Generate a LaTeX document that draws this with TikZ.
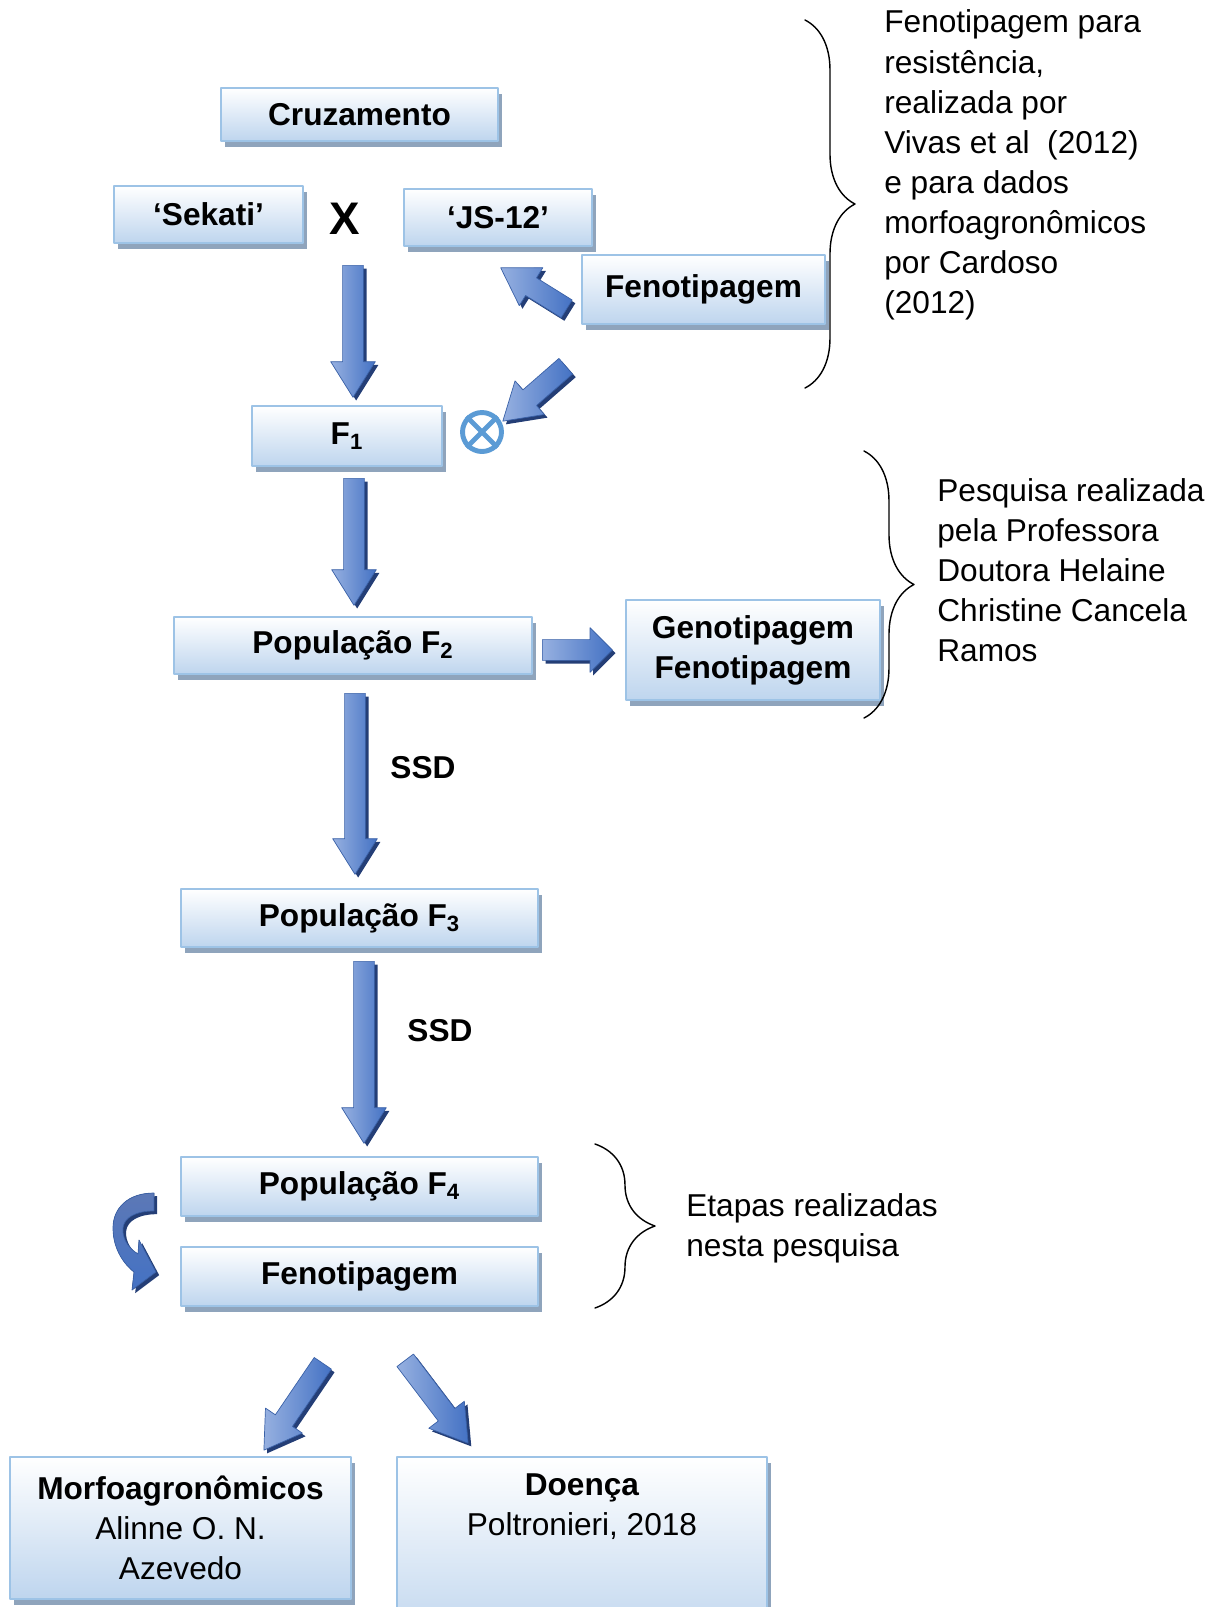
\documentclass[tikz,border=0pt]{standalone}
\usepackage{fontspec}
\setmainfont{Liberation Sans}
\usetikzlibrary{calc,shapes.arrows,shadows,decorations.pathreplacing}
\definecolor{boxline}{RGB}{157,195,230}
\definecolor{boxfill}{RGB}{190,213,238}
\definecolor{boxshade}{RGB}{143,164,188}
\definecolor{arrlight}{RGB}{150,176,224}
\definecolor{arrmid}{RGB}{92,120,182}
\definecolor{arrdark}{RGB}{68,114,196}
\definecolor{arrshade}{RGB}{36,62,118}
\definecolor{selfblue}{RGB}{91,155,213}
\newcommand\fs{\fontsize{18}{22.8}\selectfont}
\tikzset{
  box/.style={draw=boxline, line width=1.2pt, top color=white, bottom color=boxfill,
    inner sep=0pt, align=center, font=\fs\bfseries,
    drop shadow={shadow xshift=2.2pt, shadow yshift=-3.2pt, fill=boxshade, opacity=1}},
  fatarrow/.style={single arrow, inner xsep=0pt, inner ysep=5.7pt, minimum width=0pt,
    single arrow head extend=6.8pt, single arrow tip angle=64,
    left color=arrlight, right color=arrdark, draw=arrdark!85!black, line width=0.4pt,
    drop shadow={shadow xshift=1.8pt, shadow yshift=-1.8pt, fill=arrshade, opacity=1}},
  bent/.style={top color=arrmid, bottom color=arrdark, draw=arrdark!85!black, line width=0.4pt,
    drop shadow={shadow xshift=1.8pt, shadow yshift=-1.8pt, fill=arrshade, opacity=1}},
  curly/.style={decorate, decoration={brace, amplitude=#1}, line width=0.8pt},
  note/.style={align=left, anchor=west, inner sep=0pt, font=\fs},
}
% fat block arrow from #2 (tail) to #3 (tip)
\newcommand\fatarrow[3][]{%
  \path let \p1=(#2), \p2=(#3),
    \n1={atan2(\y2-\y1,\x2-\x1)}, \n2={veclen(\x2-\x1,\y2-\y1)} in
    node[fatarrow, minimum height=\n2, rotate=\n1, anchor=tail, #1] (#2-#3) at (#2) {};}
\begin{document}
\begin{tikzpicture}[x=0.02cm, y=-0.02cm, font=\fs, line join=round, line cap=round]
\useasboundingbox (0,0) rectangle (1227,1607);
\clip (0,0) rectangle (1227,1607);
\path
  (353,265) coordinate (P) (353,397) coordinate (F1in)
  (567,309) coordinate (Ft) (501,268) coordinate (Fh)
  (566,366) coordinate (St) (503,421) coordinate (Sh)
  (354,478) coordinate (F1out) (354,605) coordinate (F2in)
  (542,650) coordinate (F2r) (612,650) coordinate (Gin)
  (355,693) coordinate (F2out) (355,874) coordinate (F3in)
  (364,961) coordinate (F3out) (364,1143) coordinate (F4in)
  (323,1363) coordinate (Ml) (264,1450) coordinate (Min)
  (405,1360) coordinate (Dr) (468,1443) coordinate (Din)
  (805,20) coordinate (b1) (805,388) coordinate (b1')
  (864,451) coordinate (b2) (864,718) coordinate (b2')
  (595,1144) coordinate (b3) (595,1308) coordinate (b3')
  ;

\node[box, minimum width=5.54cm, minimum height=1.06cm] (cruz) at (359.5,114.5) {Cruzamento};
\node[box, minimum width=3.78cm, minimum height=1.14cm] (sekati) at (208.5,214.5) {‘Sekati’};
\node[font=\fontsize{26}{30}\selectfont\bfseries] (x) at (345,219) {X};
\node[box, minimum width=3.76cm, minimum height=1.14cm] (js) at (498,217.5) {‘JS-12’};
\node[box, minimum width=4.86cm, minimum height=1.38cm] (fen) at (703.5,289.5) {Fenotipagem};
\node[box, minimum width=3.80cm, minimum height=1.20cm] (f1) at (347,436) {F\textsubscript{1}};
\node[circle, draw=selfblue, line width=2.8pt, minimum size=0.78cm, inner sep=0pt] (self) at (482,432) {};
\draw[selfblue, line width=2.8pt, line cap=butt] (self.45) -- (self.225) (self.135) -- (self.315);
\node[box, minimum width=7.16cm, minimum height=1.14cm] (f2) at (353,645.5) {População F\textsubscript{2}};
\node[box, minimum width=5.08cm, minimum height=2.00cm] (gen) at (753,650) {Genotipagem\\Fenotipagem};
\node[font=\fs\bfseries] (ssd1) at (423,768) {SSD};
\node[box, minimum width=7.14cm, minimum height=1.16cm] (f3) at (359.5,918) {População F\textsubscript{3}};
\node[font=\fs\bfseries] (ssd2) at (440,1031) {SSD};
\node[box, minimum width=7.14cm, minimum height=1.18cm] (f4) at (359.5,1186.5) {População F\textsubscript{4}};
\node[box, minimum width=7.14cm, minimum height=1.18cm] (fen4) at (359.5,1276.5) {Fenotipagem};
\node[box, font=\fs, minimum width=6.82cm, minimum height=2.84cm] (morfo) at (180.5,1528)
  {\textbf{Morfoagronômicos}\\Alinne O. N.\\Azevedo};
\node[box, font=\fs, minimum width=7.40cm, minimum height=3.76cm] (doenca) at (582,1551)
  {\textbf{Doença}\\Poltronieri, 2018\\\strut\\\strut};

\fatarrow{P}{F1in}
\fatarrow{Ft}{Fh}
\fatarrow{St}{Sh}
\fatarrow{F1out}{F2in}
\fatarrow[single arrow tip angle=90]{F2r}{Gin}
\fatarrow{F2out}{F3in}
\fatarrow{F3out}{F4in}
\fatarrow{Ml}{Min}
\fatarrow{Dr}{Din}

\filldraw[bent] (154,1193) .. controls (128,1193) and (113,1208) .. (113,1228)
  .. controls (113,1250) and (125,1265) .. (134,1272)
  -- (132,1290) -- (156,1272) -- (139,1240) -- (138,1254)
  .. controls (128,1248) and (122,1238) .. (123,1228)
  .. controls (124,1218) and (135,1211) .. (154,1211) -- cycle;

\draw[curly=1cm] (b1) -- (b1');
\draw[curly=1cm] (b2) -- (b2');
\draw[curly=1.2cm] (b3) -- (b3');
\node[note] (n1) at (884,165) {Fenotipagem para\\resistência,\\realizada por\\Vivas et al~ (2012)\\e para dados\\morfoagronômicos\\por Cardoso\\(2012)};
\node[note] (n2) at (937,570) {Pesquisa realizada\\pela Professora\\Doutora Helaine\\Christine Cancela\\Ramos};
\node[note] (n3) at (686,1228) {Etapas realizadas\\nesta pesquisa};
\end{tikzpicture}
\end{document}
